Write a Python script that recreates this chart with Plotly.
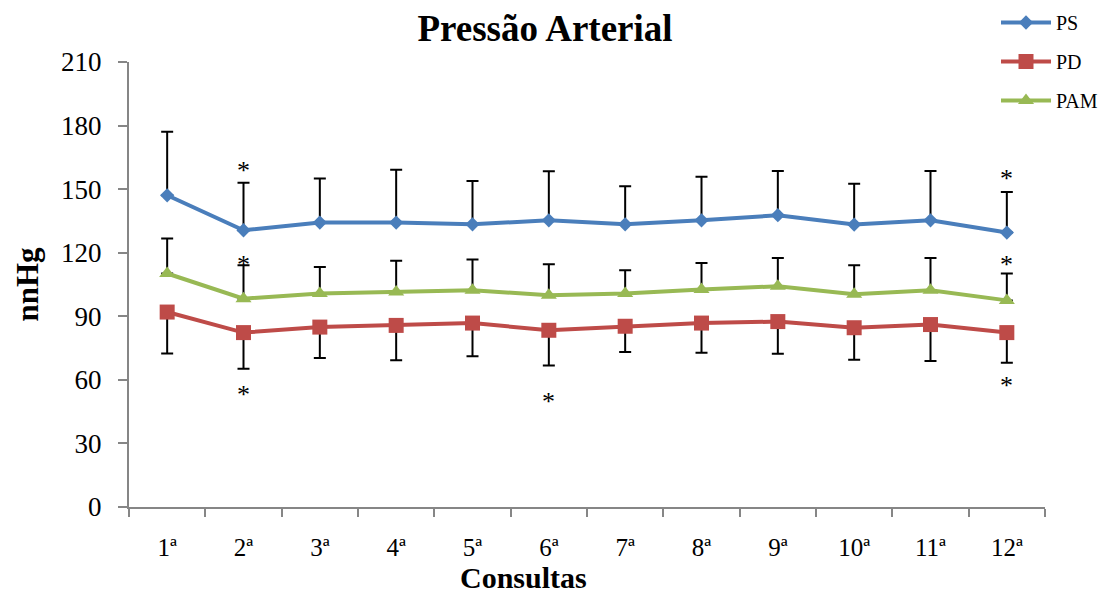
import plotly.graph_objects as go

categories = ["1ª", "2ª", "3ª", "4ª", "5ª", "6ª", "7ª", "8ª", "9ª", "10ª", "11ª", "12ª"]

ps_mean = [147.1, 130.6, 134.2, 134.2, 133.4, 135.3, 133.4, 135.3, 137.7, 133.3, 135.3, 129.5]
ps_sd = [30.0, 22.4, 20.8, 24.9, 20.4, 23.2, 18.0, 20.5, 20.9, 19.2, 23.3, 19.2]

pd_mean = [92.0, 82.3, 84.9, 85.7, 86.8, 83.4, 85.3, 86.8, 87.5, 84.6, 86.1, 82.3]
pd_sd = [19.6, 17.0, 14.6, 16.5, 15.7, 16.6, 12.2, 14.0, 15.2, 15.1, 17.2, 14.2]

pam_mean = [110.2, 98.3, 100.7, 101.5, 102.3, 99.9, 100.7, 102.6, 104.2, 100.4, 102.3, 97.5]
pam_sd = [16.5, 15.8, 12.6, 14.7, 14.5, 14.6, 11.0, 12.6, 13.3, 13.7, 15.2, 12.7]

# significance markers (category, value position)
star_cats = ["2ª", "12ª", "2ª", "12ª", "2ª", "6ª", "12ª"]
star_vals = [159.9, 155.8, 115.5, 115.6, 54.2, 50.6, 58.2]

y_ticks = [0, 30, 60, 90, 120, 150, 180, 210]

FONT = "Liberation Serif"
zeros = [0] * len(categories)

# page body has an 8px margin; compensate in figure coordinates
OFF = 8
L, T = 129 - OFF, 62 - OFF
R = 1107 - (1045 - OFF)
B = 592 - (507 - OFF)
PW = 1107 - L - R
PH = 592 - T - B

fig = go.Figure()

fig.add_trace(go.Scatter(
    x=categories, y=ps_mean, name="PS", mode="lines+markers", legendgroup="a",
    line=dict(color="#4A7EBB", width=4),
    marker=dict(symbol="diamond", size=11, color="#4A7EBB"),
    error_y=dict(type="data", symmetric=False, array=ps_sd, arrayminus=zeros,
                 color="black", thickness=2, width=6),
))
fig.add_trace(go.Scatter(
    x=categories, y=pd_mean, name="PD", mode="lines+markers", legendgroup="b",
    line=dict(color="#BE4B48", width=4),
    marker=dict(symbol="square", size=15, color="#BE4B48"),
    error_y=dict(type="data", symmetric=False, array=zeros, arrayminus=pd_sd,
                 color="black", thickness=2, width=6),
))
fig.add_trace(go.Scatter(
    x=categories, y=pam_mean, name="PAM", mode="lines+markers", legendgroup="c",
    line=dict(color="#98B954", width=4),
    marker=dict(symbol="triangle-up", size=14, color="#98B954"),
    error_y=dict(type="data", symmetric=False, array=pam_sd, arrayminus=zeros,
                 color="black", thickness=2, width=6),
))

for c, v in zip(star_cats, star_vals):
    fig.add_annotation(x=c, y=v, text="*", showarrow=False, yanchor="middle",
                       yshift=-2, font=dict(family=FONT, size=26, color="black"))

fig.add_annotation(text="<b>Consultas</b>", xref="paper", yref="paper",
                   x=(523 - 129) / PW, y=-(577 - 507) / PH, xanchor="center", yanchor="middle",
                   showarrow=False, font=dict(family=FONT, size=30, color="black"))
fig.add_annotation(text="<b>nnHg</b>", xref="paper", yref="paper", textangle=-90,
                   x=-(129 - 27) / PW, y=0.5, xanchor="center", yanchor="middle",
                   showarrow=False, font=dict(family=FONT, size=31, color="black"))

fig.update_layout(
    width=1107, height=592,
    margin=dict(l=L, r=R, t=T, b=B, autoexpand=False),
    paper_bgcolor="white", plot_bgcolor="white",
    font=dict(family=FONT, color="black"),
    title=dict(text="<b>Pressão Arterial</b>", xref="container", yref="container",
               x=(545 - OFF) / 1107, y=1 - (28 - OFF) / 592, xanchor="center", yanchor="middle",
               font=dict(family=FONT, size=37, color="black")),
    showlegend=True,
    legend=dict(xref="paper", yref="paper", x=(988 - L) / PW, y=1 + (T + 5) / PH,
                xanchor="left", yanchor="top", font=dict(family=FONT, size=20, color="black"),
                tracegroupgap=10, bgcolor="rgba(0,0,0,0)", itemwidth=50),
    xaxis=dict(type="category", categoryorder="array", categoryarray=categories,
               range=[-0.5, len(categories) - 0.5], tickson="boundaries",
               showline=True, linecolor="#868686", linewidth=2, automargin=False,
               ticks="outside", ticklen=8, tickcolor="#868686", tickwidth=2,
               showgrid=False, zeroline=False, ticklabelstandoff=17,
               tickfont=dict(family=FONT, size=25, color="black")),
    yaxis=dict(range=[0, 210], tickvals=y_ticks, automargin=False,
               showline=True, linecolor="#868686", linewidth=2,
               ticks="outside", ticklen=9, tickcolor="#868686", tickwidth=2,
               showgrid=False, zeroline=False, ticklabelstandoff=11,
               tickfont=dict(family=FONT, size=27, color="black")),
)

fig.write_html("out.html")
